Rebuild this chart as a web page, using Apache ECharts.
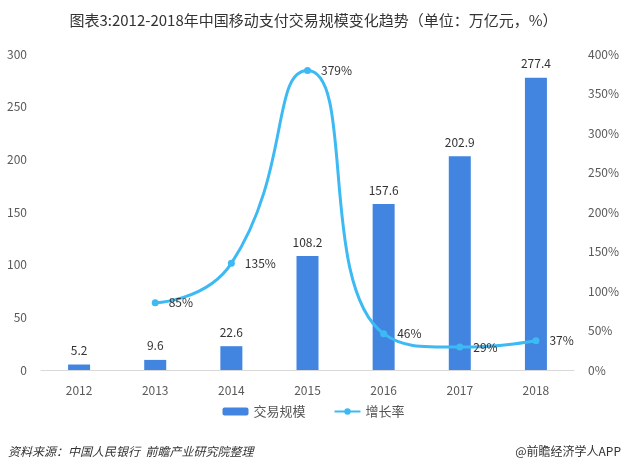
<!DOCTYPE html>
<html>
<head>
<meta charset="utf-8">
<script src="https://cdn.jsdelivr.net/npm/echarts@6/dist/echarts.min.js"></script>
<style>
  html, body { margin: 0; padding: 0; background: #fff; }
  #chart { width: 627px; height: 475px; }
</style>
</head>
<body>
<div id="chart"></div>
<script>
const years = ['2012', '2013', '2014', '2015', '2016', '2017', '2018'];
const scale = [5.2, 9.6, 22.6, 108.2, 157.6, 202.9, 277.4];
const growth = [null, 85, 135, 379, 46, 29, 37];

const font = '"Microsoft YaHei", "Noto Sans CJK SC", sans-serif';
const chart = echarts.init(document.getElementById('chart'));

const option = {
  backgroundColor: '#fff',
  textStyle: { fontFamily: font },
  title: {
    text: '图表3:2012-2018年中国移动支付交易规模变化趋势（单位：万亿元，%）',
    left: 'center',
    top: 8,
    textStyle: { fontSize: 15, fontWeight: 'normal', color: '#333', fontFamily: font }
  },
  legend: {
    bottom: 52,
    itemGap: 28,
    itemWidth: 26,
    itemHeight: 8,
    textStyle: { fontSize: 13, color: '#555' },
    data: ['交易规模', '增长率']
  },
  grid: { left: 41, right: 53, top: 54, bottom: 105 },
  xAxis: {
    type: 'category',
    data: years,
    axisTick: { show: false },
    axisLine: { lineStyle: { color: '#d9d9d9' } },
    axisLabel: { color: '#595959', fontSize: 12, margin: 14 }
  },
  yAxis: [
    {
      type: 'value', min: 0, max: 300, interval: 50,
      splitLine: { show: false },
      axisLine: { show: false },
      axisTick: { show: false },
      axisLabel: { color: '#595959', fontSize: 12, margin: 14 }
    },
    {
      type: 'value', min: 0, max: 400, interval: 50,
      splitLine: { show: false },
      axisLine: { show: false },
      axisTick: { show: false },
      axisLabel: { color: '#595959', fontSize: 12, margin: 14, formatter: '{value}%' }
    }
  ],
  series: [
    {
      name: '交易规模',
      type: 'bar',
      data: scale,
      barWidth: 22,
      itemStyle: { color: '#4285e0' },
      label: { show: true, position: 'top', color: '#333', fontSize: 12, distance: 8 }
    },
    {
      name: '增长率',
      type: 'line',
      yAxisIndex: 1,
      data: growth,
      smooth: 0.55,
      connectNulls: false,
      symbol: 'circle',
      symbolSize: 7,
      lineStyle: { color: '#3dbaf3', width: 3 },
      itemStyle: { color: '#3dbaf3' },
      label: { show: true, position: 'right', color: '#333', fontSize: 12, formatter: '{c}%', distance: 10 }
    }
  ],
  graphic: [
    {
      type: 'text', left: 8, top: 445,
      style: { text: '资料来源：中国人民银行  前瞻产业研究院整理', fontSize: 12, fontStyle: 'italic', fill: '#333', fontFamily: font }
    },
    {
      type: 'text', right: 6, top: 445,
      style: { text: '@前瞻经济学人APP', fontSize: 12, fill: '#333', fontFamily: font }
    }
  ]
};

chart.setOption(option);
</script>
</body>
</html>
